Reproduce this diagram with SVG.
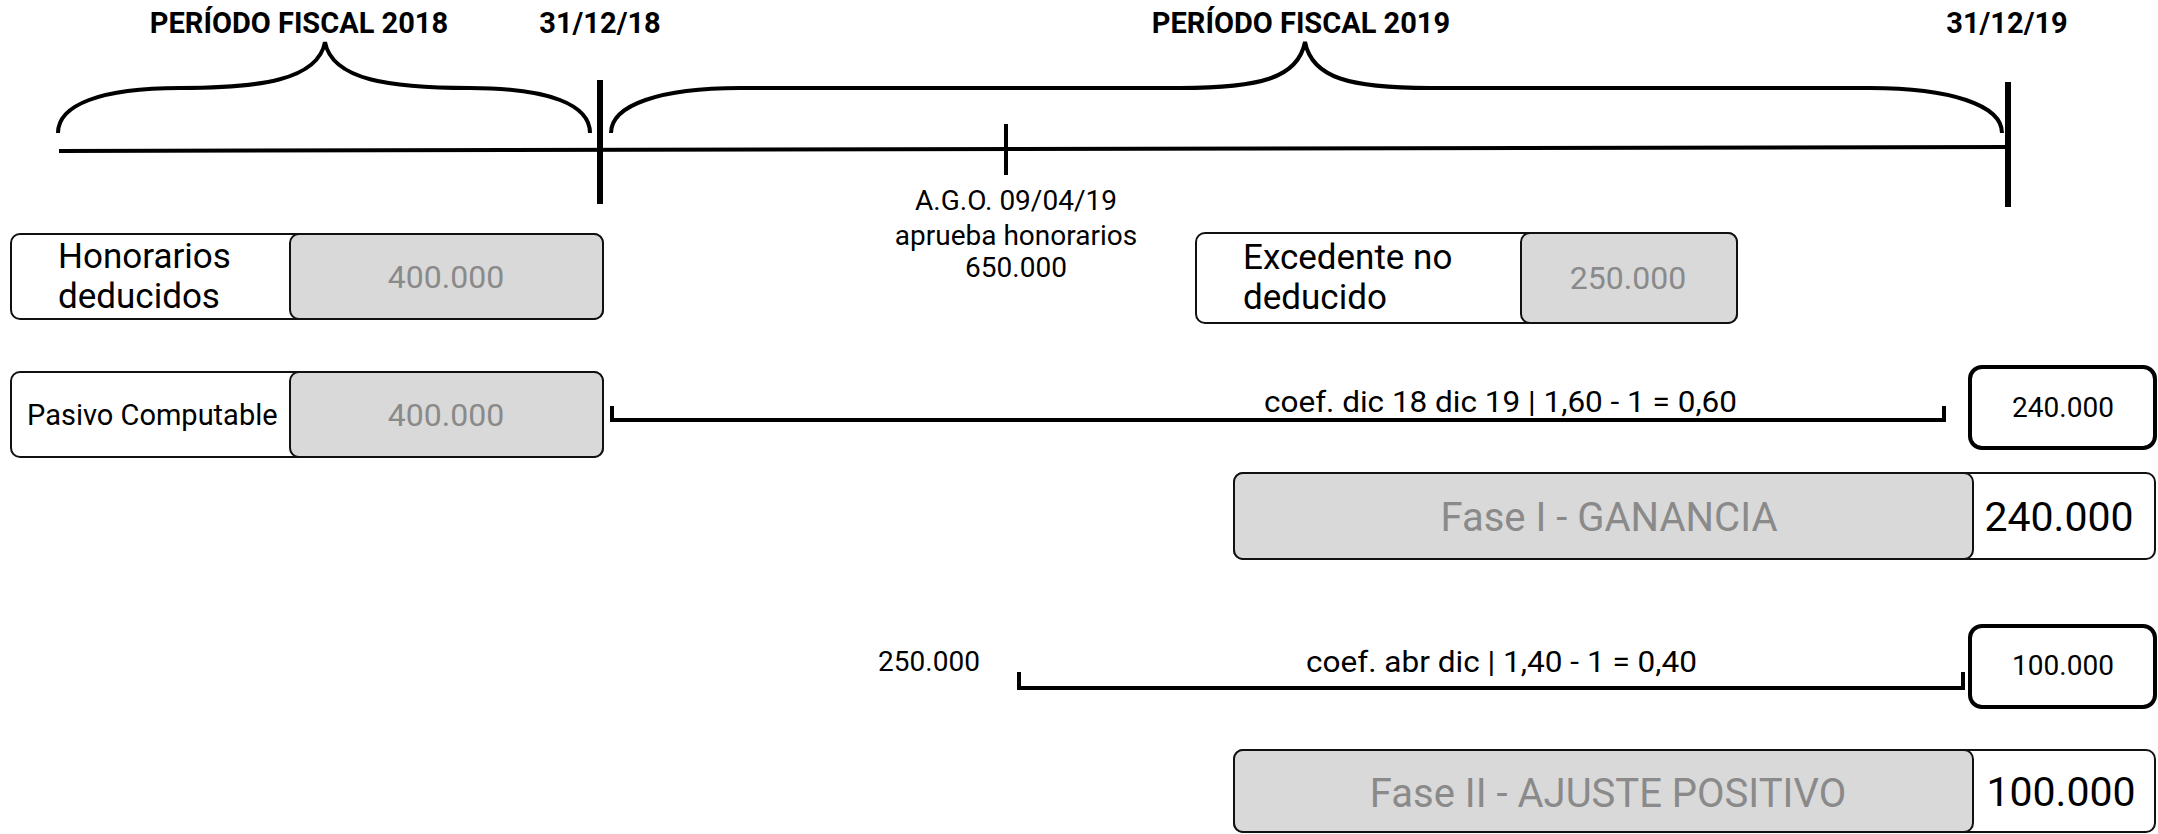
<svg xmlns="http://www.w3.org/2000/svg" width="2158" height="834" viewBox="0 0 2158 834">
<style>
text{font-family:Roboto,"Liberation Sans",sans-serif;fill:#000}
.hdr{font-weight:bold;font-size:29px;text-anchor:middle}
.lbl{font-size:35px}
.gv{font-size:32px;fill:#8a8a8a;text-anchor:middle}
.mid{font-size:28px;text-anchor:middle}
.big{font-size:40px;fill:#8a8a8a;text-anchor:middle}
.bigv{font-size:41px;text-anchor:middle}
.line{fill:none;stroke:#000;stroke-width:4}
.vbar{fill:none;stroke:#000;stroke-width:6}
.wbox{fill:#fff;stroke:#111;stroke-width:2}
.gbox{fill:#d9d9d9;stroke:#111;stroke-width:2}
.rbox{fill:#fff;stroke:#000;stroke-width:4}
</style>
<rect width="2158" height="834" fill="#fff"/>
<g id="headers">
<text class="hdr" x="299" y="33">PERÍODO FISCAL 2018</text>
<text class="hdr" x="600" y="33">31/12/18</text>
<text class="hdr" x="1301" y="33">PERÍODO FISCAL 2019</text>
<text class="hdr" x="2007" y="33">31/12/19</text>
</g>
<g id="connectors">
<path class="line" d="M58,133 C58,105 100,88 180,88 C260,88 318,80 325,42 C332,80 390,88 470,88 C550,88 590,105 590,133"/>
<path class="line" d="M611,133 C611,105 660,88 740,88 L1180,88 C1260,88 1298,78 1305,42 C1312,78 1350,88 1430,88 L1870,88 C1950,88 2002,105 2002,133"/>
<path class="line" d="M59,151 L2008,147"/>
<path class="vbar" d="M600,80 V204"/>
<path class="vbar" d="M2008,82 V207"/>
<path class="line" d="M1006,124 V175"/>
<path class="line" d="M612,406 V420 H1944 V406"/>
<path class="line" d="M1019,672 V688 H1963 V672"/>
</g>
<g id="ago">
<text class="mid" x="1016" y="210">A.G.O. 09/04/19</text>
<text class="mid" x="1016" y="245">aprueba honorarios</text>
<text class="mid" x="1016" y="277">650.000</text>
</g>
<g id="honorarios">
<rect class="wbox" x="11" y="234" width="592" height="85" rx="9"/>
<rect class="gbox" x="290" y="234" width="313" height="85" rx="9"/>
<text class="lbl" x="58" y="268">Honorarios</text>
<text class="lbl" x="58" y="308">deducidos</text>
<text class="gv" x="446" y="288">400.000</text>
</g>
<g id="pasivo">
<rect class="wbox" x="11" y="372" width="592" height="85" rx="9"/>
<rect class="gbox" x="290" y="372" width="313" height="85" rx="9"/>
<text x="27" y="425" font-size="29">Pasivo Computable</text>
<text class="gv" x="446" y="426">400.000</text>
</g>
<g id="excedente">
<rect class="wbox" x="1196" y="233" width="541" height="90" rx="9"/>
<rect class="gbox" x="1521" y="233" width="216" height="90" rx="9"/>
<text class="lbl" x="1243" y="269">Excedente no</text>
<text class="lbl" x="1243" y="309">deducido</text>
<text class="gv" x="1628" y="289">250.000</text>
</g>
<g id="coef1">
<text x="1264" y="412" font-size="30" textLength="473" lengthAdjust="spacingAndGlyphs">coef. dic 18 dic 19 | 1,60 - 1 = 0,60</text>
</g>
<g id="res1">
<rect class="rbox" x="1970" y="367" width="185" height="81" rx="12"/>
<text class="mid" x="2063" y="417">240.000</text>
</g>
<g id="fase1">
<rect class="wbox" x="1234" y="473" width="921" height="86" rx="9"/>
<rect class="gbox" x="1234" y="473" width="739" height="86" rx="9"/>
<text class="big" x="1609" y="531">Fase I - GANANCIA</text>
<text class="bigv" x="2059" y="531">240.000</text>
</g>
<g id="val250">
<text class="mid" x="929" y="671">250.000</text>
</g>
<g id="coef2">
<text x="1306" y="672" font-size="30" textLength="391" lengthAdjust="spacingAndGlyphs">coef. abr dic | 1,40 - 1 = 0,40</text>
</g>
<g id="res2">
<rect class="rbox" x="1970" y="626" width="185" height="81" rx="12"/>
<text class="mid" x="2063" y="675">100.000</text>
</g>
<g id="fase2">
<rect class="wbox" x="1234" y="750" width="921" height="82" rx="9"/>
<rect class="gbox" x="1234" y="750" width="739" height="82" rx="9"/>
<text class="big" x="1608" y="807">Fase II - AJUSTE POSITIVO</text>
<text class="bigv" x="2061" y="806">100.000</text>
</g>
</svg>
